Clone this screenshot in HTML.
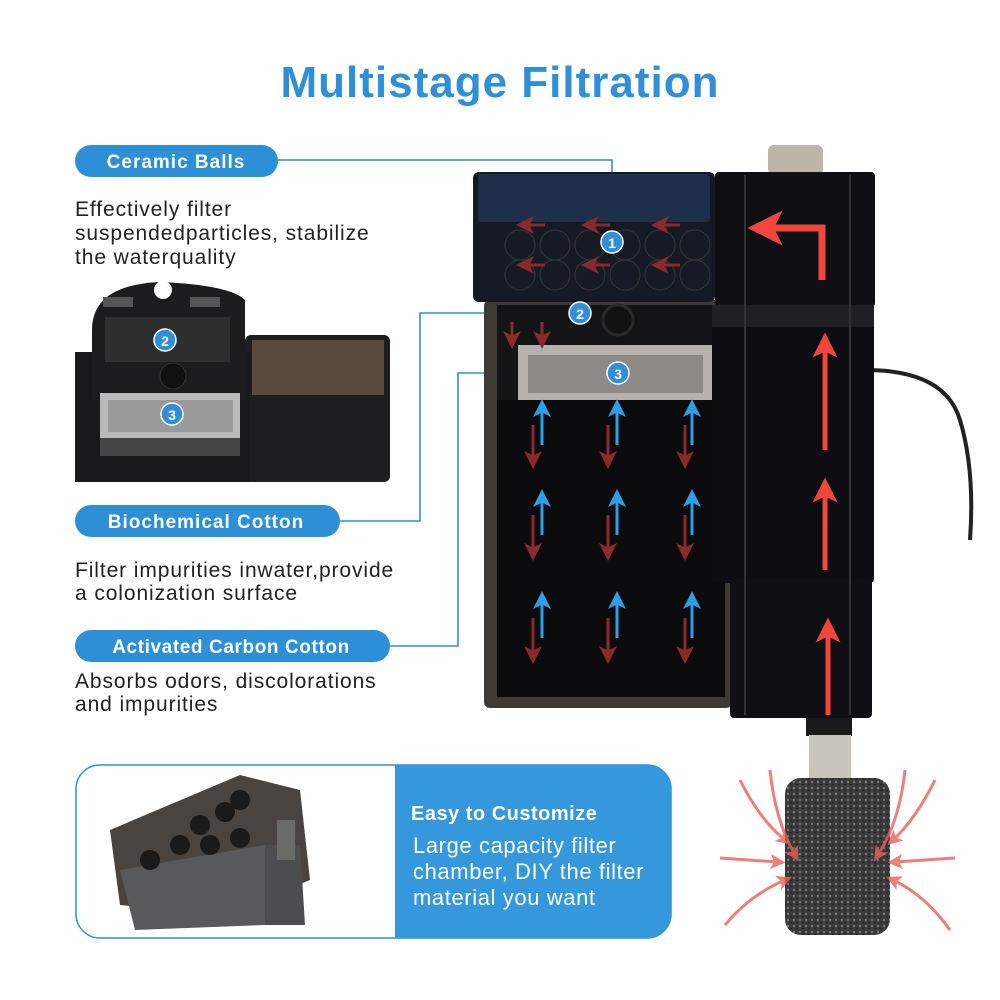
<!DOCTYPE html>
<html><head><meta charset="utf-8"><style>
html,body{margin:0;padding:0;background:#fff}
svg{display:block}
text{font-family:"Liberation Sans",sans-serif}
</style></head><body>
<svg width="1000" height="1000" viewBox="0 0 1000 1000" xmlns="http://www.w3.org/2000/svg">
<defs>
<marker id="bu" markerWidth="6" markerHeight="6" refX="3" refY="3" orient="auto"><path d="M0,0 L6,3 L0,6 L1.5,3z" fill="#2aa0e8"/></marker>
<marker id="rd" markerWidth="6" markerHeight="6" refX="3" refY="3" orient="auto"><path d="M0,0 L6,3 L0,6 L1.5,3z" fill="#8a2a2a"/></marker>
<marker id="rr" markerWidth="5" markerHeight="5" refX="2.5" refY="2.5" orient="auto"><path d="M0,0 L5,2.5 L0,5 L1.2,2.5z" fill="#f0463c"/></marker>
<marker id="rl" markerWidth="5" markerHeight="5" refX="2.5" refY="2.5" orient="auto"><path d="M0,0 L5,2.5 L0,5 L1.2,2.5z" fill="#e8605a"/></marker>
<pattern id="sp" width="6" height="6" patternUnits="userSpaceOnUse"><rect width="6" height="6" fill="#3a3a3a"/><circle cx="2" cy="2" r="1.2" fill="#777"/><circle cx="5" cy="4.5" r="0.9" fill="#222"/></pattern>
</defs>

<text x="500" y="97" text-anchor="middle" font-size="44" font-weight="bold" fill="#2f8fd8" letter-spacing="1">Multistage Filtration</text>

<g stroke="#2f8fd8" stroke-width="1.6" fill="none">
<path d="M278,160 H612 V240"/>
<path d="M340,521 H420 V313 H580"/>
<path d="M390,646 H458 V373 H618"/>
</g>

<rect x="75" y="145" width="203" height="32" rx="16" fill="#2d8fd5"/>
<text x="176" y="168" text-anchor="middle" font-size="19" font-weight="bold" fill="#fff" letter-spacing="1">Ceramic Balls</text>
<rect x="75" y="505" width="265" height="32" rx="16" fill="#2d8fd5"/>
<text x="206" y="528" text-anchor="middle" font-size="19" font-weight="bold" fill="#fff" letter-spacing="1">Biochemical Cotton</text>
<rect x="75" y="630" width="315" height="32" rx="16" fill="#2d8fd5"/>
<text x="231" y="653" text-anchor="middle" font-size="19" font-weight="bold" fill="#fff" letter-spacing="0.6">Activated Carbon Cotton</text>

<g font-size="21" fill="#222" letter-spacing="0.9">
<text x="75" y="216">Effectively filter</text>
<text x="75" y="240">suspendedparticles, stabilize</text>
<text x="75" y="264">the waterquality</text>
<text x="75" y="577">Filter impurities inwater,provide</text>
<text x="75" y="600">a colonization surface</text>
<text x="75" y="688">Absorbs odors, discolorations</text>
<text x="75" y="711">and impurities</text>
</g>

<rect x="245" y="335" width="145" height="147" rx="6" fill="#1e1e20"/>
<rect x="252" y="340" width="132" height="55" fill="#5a4a3c"/>
<rect x="75" y="352" width="175" height="130" fill="#19191b"/>
<path d="M92,330 Q92,285 160,282 Q230,285 245,300 L245,400 L92,400 Z" fill="#1c1c1e"/>
<rect x="105" y="317" width="125" height="45" fill="#2e2e2e"/>
<rect x="103" y="297" width="30" height="10" fill="#555"/><rect x="190" y="297" width="30" height="10" fill="#555"/>
<circle cx="163" cy="290" r="9" fill="#fff"/>
<rect x="100" y="393" width="140" height="45" fill="#bbb"/>
<rect x="108" y="400" width="125" height="32" fill="#9a9a9a"/>
<rect x="100" y="438" width="140" height="18" fill="#444"/>
<circle cx="173" cy="376" r="13" fill="#111" stroke="#333"/>
<circle cx="165" cy="340" r="11" fill="#2f8fd8" stroke="#fff" stroke-width="1.5"/><text x="165" y="346" text-anchor="middle" font-size="14" font-weight="bold" fill="#fff">2</text>
<circle cx="172" cy="414" r="11" fill="#2f8fd8" stroke="#fff" stroke-width="1.5"/><text x="172" y="420" text-anchor="middle" font-size="14" font-weight="bold" fill="#fff">3</text>

<rect x="484" y="300" width="248" height="408" rx="6" fill="#3e3a36"/>
<rect x="497" y="395" width="228" height="302" fill="#0b0b0d"/>
<rect x="497" y="305" width="228" height="95" fill="#141416"/>
<rect x="518" y="345" width="195" height="55" fill="#b5b2ad"/>
<rect x="528" y="355" width="175" height="38" fill="#8d8a86"/>
<circle cx="618" cy="320" r="15" fill="#111" stroke="#2a2a2a" stroke-width="3"/>
<rect x="473" y="172" width="242" height="130" rx="6" fill="#161a24"/>
<rect x="478" y="174" width="232" height="48" rx="4" fill="#1d2f4a"/>
<g stroke="#333" fill="none" stroke-width="1.2">
<circle cx="520" cy="245" r="15"/><circle cx="555" cy="245" r="15"/><circle cx="590" cy="245" r="15"/><circle cx="625" cy="245" r="15"/><circle cx="660" cy="245" r="15"/><circle cx="695" cy="245" r="15"/>
<circle cx="520" cy="275" r="15"/><circle cx="555" cy="275" r="15"/><circle cx="590" cy="275" r="15"/><circle cx="625" cy="275" r="15"/><circle cx="660" cy="275" r="15"/><circle cx="695" cy="275" r="15"/>
</g>
<g stroke="#8a2a2a" stroke-width="3" marker-end="url(#rd)">
<line x1="545" y1="225" x2="525" y2="225"/><line x1="610" y1="225" x2="590" y2="225"/><line x1="680" y1="225" x2="660" y2="225"/>
<line x1="545" y1="265" x2="525" y2="265"/><line x1="610" y1="265" x2="590" y2="265"/><line x1="680" y1="265" x2="660" y2="265"/>
<line x1="512" y1="322" x2="512" y2="340"/><line x1="542" y1="322" x2="542" y2="340"/>
</g>
<g stroke="#8a2a2a" stroke-width="3" marker-end="url(#rd)">
<line x1="533" y1="425" x2="533" y2="460"/><line x1="608" y1="425" x2="608" y2="460"/><line x1="685" y1="425" x2="685" y2="460"/>
<line x1="533" y1="515" x2="533" y2="552"/><line x1="608" y1="515" x2="608" y2="552"/><line x1="685" y1="515" x2="685" y2="552"/>
<line x1="533" y1="618" x2="533" y2="655"/><line x1="608" y1="618" x2="608" y2="655"/><line x1="685" y1="618" x2="685" y2="655"/>
</g>
<g stroke="#2aa0e8" stroke-width="3" marker-end="url(#bu)">
<line x1="542" y1="445" x2="542" y2="408"/><line x1="617" y1="445" x2="617" y2="408"/><line x1="692" y1="445" x2="692" y2="408"/>
<line x1="542" y1="535" x2="542" y2="498"/><line x1="617" y1="535" x2="617" y2="498"/><line x1="692" y1="535" x2="692" y2="498"/>
<line x1="542" y1="638" x2="542" y2="600"/><line x1="617" y1="638" x2="617" y2="600"/><line x1="692" y1="638" x2="692" y2="600"/>
</g>

<path d="M866,370 Q945,370 960,420 Q975,470 970,540" stroke="#222" stroke-width="4" fill="none"/>
<rect x="768" y="145" width="55" height="30" rx="6" fill="#bdb6a4"/>
<rect x="715" y="172" width="160" height="135" rx="4" fill="#101014"/>
<rect x="712" y="305" width="162" height="278" rx="4" fill="#0e0e12"/>
<rect x="712" y="305" width="162" height="22" fill="#1f1f24"/>
<rect x="730" y="578" width="142" height="140" rx="4" fill="#101014"/>
<g stroke="#333" stroke-width="2"><line x1="745" y1="175" x2="745" y2="715"/><line x1="850" y1="175" x2="850" y2="715"/></g>
<path d="M822,280 V228 H765" stroke="#f0463c" stroke-width="7" fill="none" marker-end="url(#rr)"/>
<g stroke="#f0463c" stroke-width="5" marker-end="url(#rr)">
<line x1="825" y1="450" x2="825" y2="345"/><line x1="825" y1="570" x2="825" y2="490"/><line x1="828" y1="715" x2="828" y2="630"/>
</g>

<circle cx="612" cy="242" r="11" fill="#2f8fd8" stroke="#fff" stroke-width="1.5"/><text x="612" y="248" text-anchor="middle" font-size="14" font-weight="bold" fill="#fff">1</text>
<circle cx="580" cy="313" r="11" fill="#2f8fd8" stroke="#fff" stroke-width="1.5"/><text x="580" y="319" text-anchor="middle" font-size="14" font-weight="bold" fill="#fff">2</text>
<circle cx="618" cy="373" r="11" fill="#2f8fd8" stroke="#fff" stroke-width="1.5"/><text x="618" y="379" text-anchor="middle" font-size="14" font-weight="bold" fill="#fff">3</text>

<rect x="806" y="718" width="46" height="18" fill="#1a1a1a"/>
<rect x="809" y="735" width="42" height="55" fill="#c9c5bd"/>
<rect x="785" y="778" width="105" height="157" rx="16" fill="url(#sp)"/>
<g stroke="#e8605a" stroke-width="3" fill="none" opacity="0.8" marker-end="url(#rl)">
<path d="M740,780 Q760,820 785,840"/><path d="M770,770 Q775,820 795,855"/><path d="M720,858 L778,862"/>
<path d="M725,925 Q750,895 785,880"/><path d="M935,780 Q915,820 893,840"/><path d="M905,770 Q900,820 878,855"/>
<path d="M955,858 L895,862"/><path d="M950,930 Q925,895 893,880"/>
</g>

<rect x="76" y="765" width="595" height="173" rx="24" fill="#fff" stroke="#2f8fd8" stroke-width="1.5"/>
<path d="M395,765 H647 A24,24 0 0 1 671,789 V914 A24,24 0 0 1 647,938 H395 Z" fill="#3597dc"/>
<path d="M110,830 L240,775 L300,790 L310,880 L225,915 L120,905 Z" fill="#4a4440"/>
<path d="M120,870 L265,845 L265,925 L135,930 Z" fill="#58595b"/>
<path d="M265,845 L300,845 L305,925 L265,925 Z" fill="#4c4d4f"/>
<g fill="#1a1a1a"><circle cx="200" cy="825" r="10"/><circle cx="225" cy="812" r="10"/><circle cx="180" cy="845" r="10"/><circle cx="210" cy="845" r="10"/><circle cx="240" cy="838" r="10"/><circle cx="150" cy="860" r="10"/><circle cx="240" cy="800" r="10"/></g>
<rect x="277" y="820" width="18" height="40" fill="#6a6a66"/>
<text x="411" y="820" font-size="20" font-weight="bold" fill="#fff" letter-spacing="0.5">Easy to Customize</text>
<g font-size="22" fill="#fff" letter-spacing="0.6">
<text x="413" y="853">Large capacity filter</text>
<text x="413" y="879">chamber, DIY the filter</text>
<text x="413" y="905">material you want</text>
</g>
</svg>
</body></html>
